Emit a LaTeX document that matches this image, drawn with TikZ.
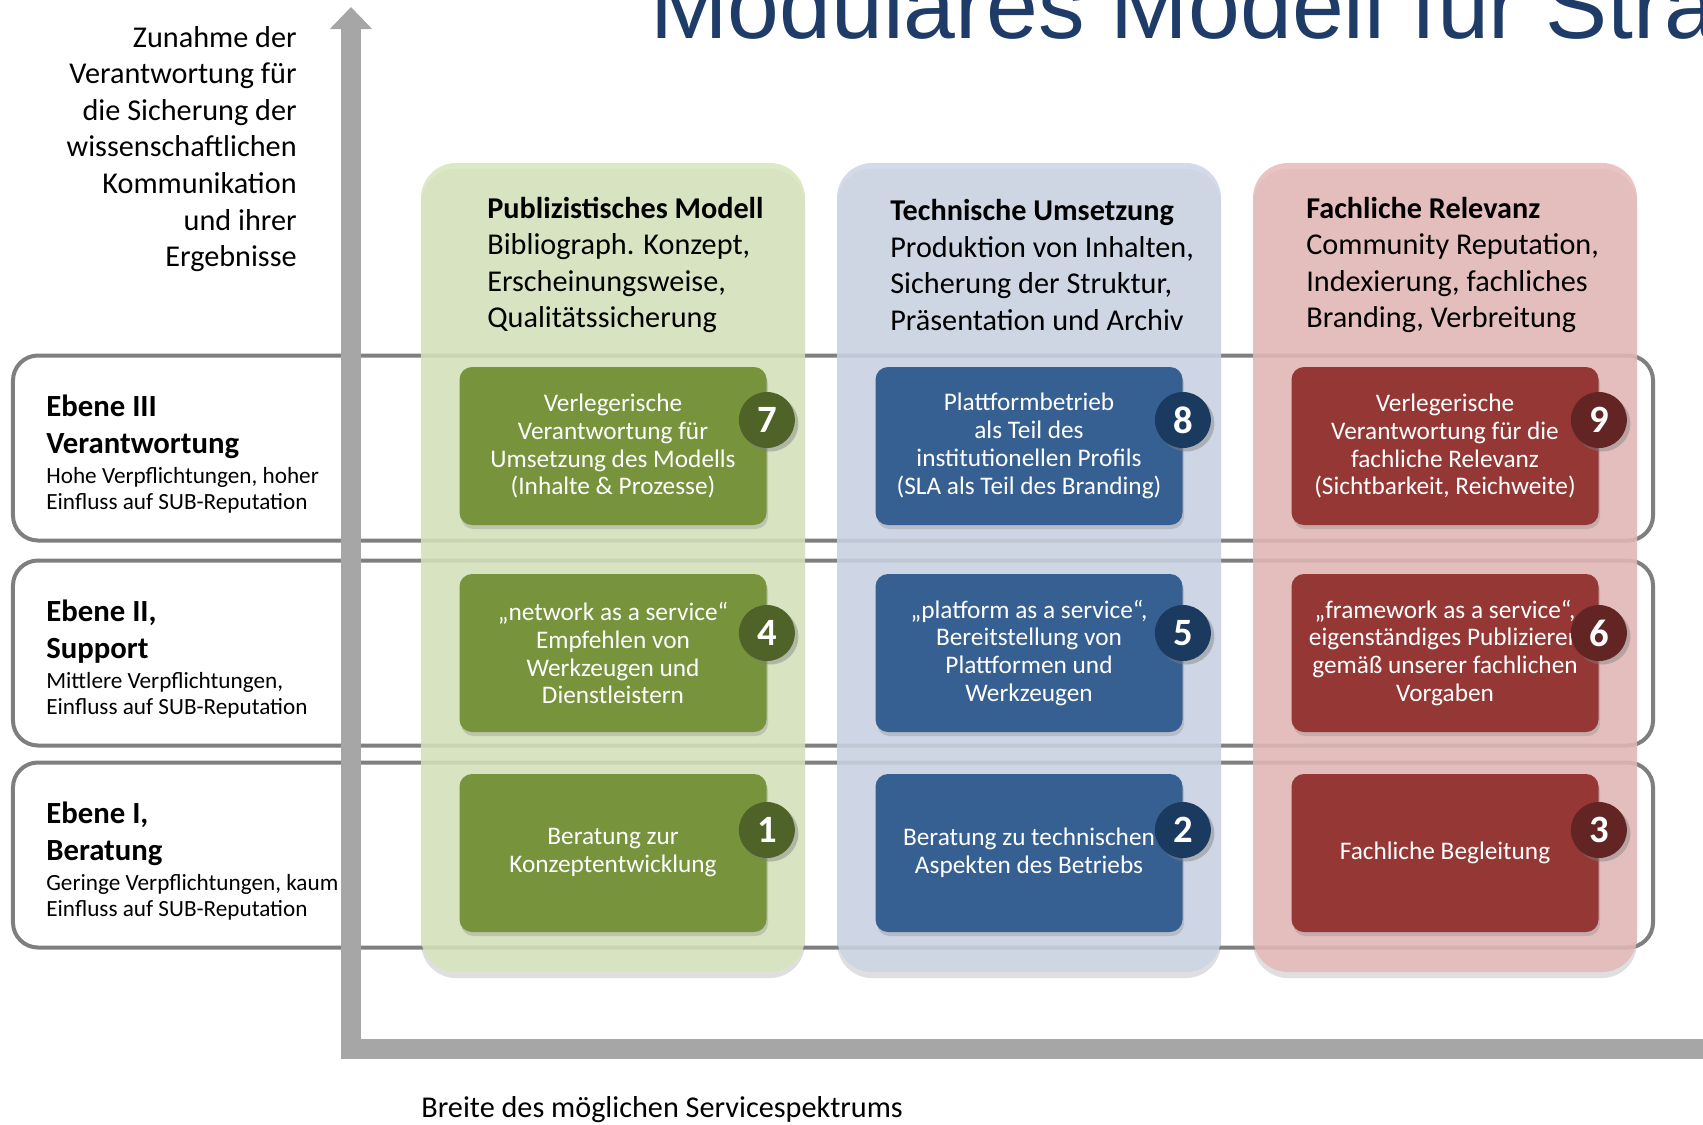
\documentclass[tikz,border=0pt]{standalone}
\usepackage{fontspec}
\setmainfont{Carlito}
\newfontfamily\titlefont{Liberation Sans}
\usetikzlibrary{positioning,arrows.meta,shadows}

\definecolor{axisGray}{HTML}{A6A6A6}
\definecolor{bandGray}{HTML}{7F7F7F}
\definecolor{titleBlue}{HTML}{1F3C68}
\definecolor{pubLight}{HTML}{D7E4BD}
\definecolor{pubDark}{HTML}{77933C}
\definecolor{pubNum}{HTML}{4F6228}
\definecolor{tecLight}{HTML}{CCD4E5}
\definecolor{tecDark}{HTML}{376092}
\definecolor{tecNum}{HTML}{1B3A60}
\definecolor{relLight}{HTML}{E6B9B8}
\definecolor{relDark}{HTML}{953735}
\definecolor{relNum}{HTML}{632523}

\tikzset{
  band/.style={draw=bandGray, line width=0.8mm, fill=white, rounded corners=5mm,
    minimum width=328mm, minimum height=37mm, inner sep=0pt},
  column/.style={rounded corners=7mm, minimum width=76.8mm, minimum height=161.8mm,
    inner sep=0pt, fill opacity=0.85,
    drop shadow={shadow xshift=0mm, shadow yshift=-1.2mm, opacity=0.25}},
  box/.style={rounded corners=2.5mm, minimum width=61.4mm, minimum height=31.6mm,
    inner sep=0pt, align=center, text=white,
    font=\fontsize{14.4}{15.9}\selectfont,
    drop shadow={shadow xshift=0.3mm, shadow yshift=-0.8mm, opacity=0.3}},
  num/.style={circle, minimum size=11.2mm, inner sep=0pt, text=white,
    font=\bfseries\fontsize{22}{22}\selectfont,
    drop shadow={shadow xshift=0.7mm, shadow yshift=-0.7mm, opacity=0.45}},
  colhead/.style={anchor=west, align=left, inner sep=0pt,
    font=\fontsize{17.2}{20.8}\selectfont},
  levelhead/.style={anchor=west, align=left, inner sep=0pt,
    font=\bfseries\fontsize{17.5}{21}\selectfont},
  leveltext/.style={anchor=west, align=left, inner sep=0pt,
    font=\fontsize{13.2}{14.8}\selectfont},
  axis/.style={draw=axisGray, line width=4mm, line join=miter}
}

\begin{document}
\begin{tikzpicture}[x=0.2mm, y=-0.2mm]
    \useasboundingbox (0,0) rectangle (1703,1124);
    \clip (0,0) rectangle (1703,1124);

    % Levels
    \foreach \y/\nm/\hd/\tx in {448/III/{Ebene III\\Verantwortung}/{Hohe Verpflichtungen, hoher\\Einfluss auf SUB-Reputation},
        653/II/{Ebene II,\\Support}/{Mittlere Verpflichtungen,\\Einfluss auf SUB-Reputation},
        855/I/{Ebene I,\\Beratung}/{Geringe Verpflichtungen, kaum\\Einfluss auf SUB-Reputation}} {
        \node[band] (lvl\nm) at (833,\y) {};
        \node[levelhead] (hd\nm) at (46,\y-21) {\hd};
        \node[leveltext] (tx\nm) at (46,\y+42) {\tx};
    }

    % Axes
    \draw[axis, {Triangle[width=8.2mm,length=4.4mm]}-{Triangle[width=8.2mm,length=4.4mm]}]
        (351,7) -- (351,1049) -- (1725,1049);
    \node[anchor=east, align=right, inner sep=0pt, font=\fontsize{17.2}{20.8}\selectfont] (ylabel) at (297,149)
        {Zunahme der\\Verantwortung für\\die Sicherung der\\wissenschaftlichen\\Kommunikation\\und ihrer\\Ergebnisse};
    \node[anchor=west, inner sep=0pt, font=\fontsize{17.2}{20.8}\selectfont] (xlabel) at (421,1110)
        {Breite des möglichen Servicespektrums};

    % Columns
    \foreach \cx/\cc/\nm in {613/pubLight/colPub, 1029/tecLight/colTec, 1445/relLight/colRel} {
        \node[column, fill=\cc] (\nm) at (\cx,567.5) {};
    }
    \node[colhead] (hdPub) at (487,265) {\textbf{Publizistisches Modell}\\Bibliograph. Konzept,\\Erscheinungsweise,\\Qualitätssicherung};
    \node[colhead] (hdTec) at (890,265) {\textbf{Technische Umsetzung}\\Produktion von Inhalten,\\Sicherung der Struktur,\\Präsentation und Archiv};
    \node[colhead] (hdRel) at (1306,265) {\textbf{Fachliche Relevanz}\\Community Reputation,\\Indexierung, fachliches\\Branding, Verbreitung};

    % Services
    \node[box, fill=pubDark] (pub3) at (613,446) {Verlegerische\\Verantwortung für\\Umsetzung des Modells\\(Inhalte \& Prozesse)};
    \node[box, fill=pubDark] (pub2) at (613,653) {„network as a service“\\Empfehlen von\\Werkzeugen und\\Dienstleistern};
    \node[box, fill=pubDark] (pub1) at (613,853) {Beratung zur\\Konzeptentwicklung};
    \node[box, fill=tecDark] (tec3) at (1029,446) {Plattformbetrieb\\als Teil des\\institutionellen Profils\\(SLA als Teil des Branding)};
    \node[box, fill=tecDark] (tec2) at (1029,653) {„platform as a service“,\\Bereitstellung von\\Plattformen und\\Werkzeugen};
    \node[box, fill=tecDark] (tec1) at (1029,853) {Beratung zu technischen\\Aspekten des Betriebs};
    \node[box, fill=relDark] (rel3) at (1445,446) {Verlegerische\\Verantwortung für die\\fachliche Relevanz\\(Sichtbarkeit, Reichweite)};
    \node[box, fill=relDark] (rel2) at (1445,653) {„framework as a service“,\\eigenständiges Publizieren\\gemäß unserer fachlichen\\Vorgaben};
    \node[box, fill=relDark] (rel1) at (1445,853) {Fachliche Begleitung};

    % Numbers
    \node[num, fill=pubNum, yshift=5.2mm] (n7) at (pub3.east) {7};
    \node[num, fill=pubNum, yshift=4mm] (n4) at (pub2.east) {4};
    \node[num, fill=pubNum, yshift=4.6mm] (n1) at (pub1.east) {1};
    \node[num, fill=tecNum, yshift=5.2mm] (n8) at (tec3.east) {8};
    \node[num, fill=tecNum, yshift=4mm] (n5) at (tec2.east) {5};
    \node[num, fill=tecNum, yshift=4.6mm] (n2) at (tec1.east) {2};
    \node[num, fill=relNum, yshift=5.2mm] (n9) at (rel3.east) {9};
    \node[num, fill=relNum, yshift=4mm] (n6) at (rel2.east) {6};
    \node[num, fill=relNum, yshift=4.6mm] (n3) at (rel1.east) {3};

    % Title
    \node[anchor=base west, inner sep=0pt, text=titleBlue, font=\titlefont\fontsize{53}{60}\selectfont] (title) at (650,38)
        {Modulares Modell für Stra};
\end{tikzpicture}
\end{document}
